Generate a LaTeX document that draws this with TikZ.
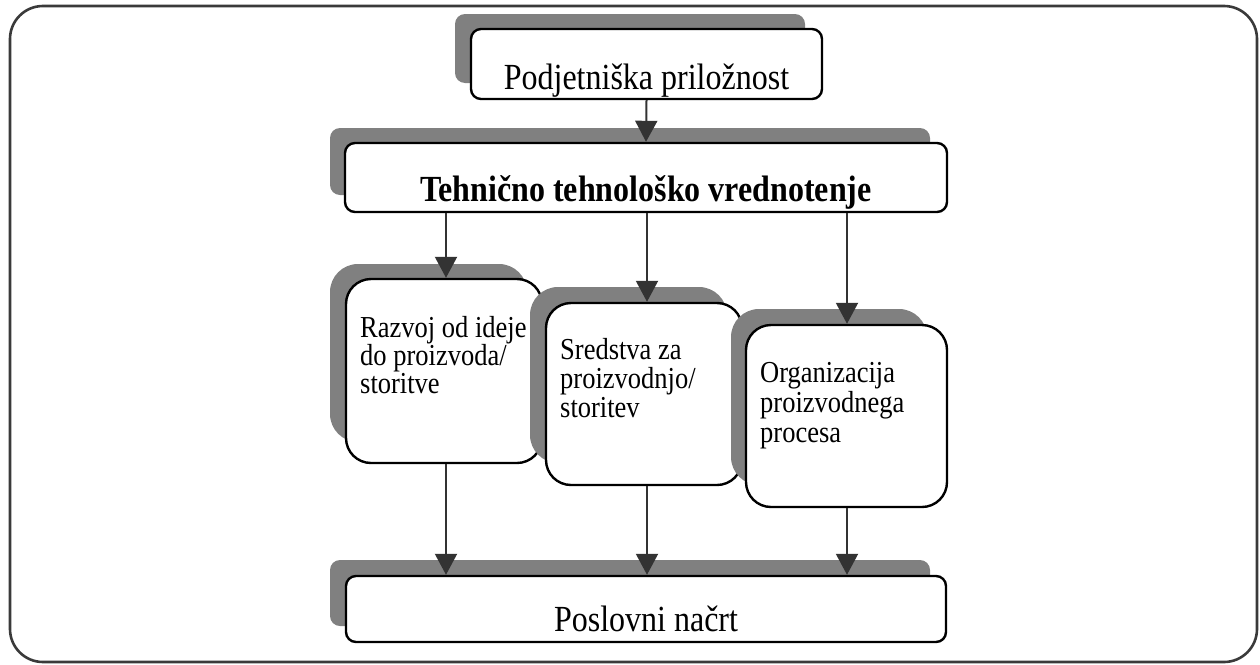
\documentclass[tikz,border=0pt]{standalone}
\usepackage{graphicx}
\usepackage{fontspec}
\setmainfont{Liberation Serif}
\usetikzlibrary{arrows.meta}

\definecolor{framegray}{HTML}{3A3A3A}
\definecolor{shadegray}{HTML}{808080}
\definecolor{conngray}{HTML}{333333}

% glyphs in this chart are set slightly tall
\newcommand\talltext[1]{\scalebox{1}[1.15]{#1}}

\tikzset{
  box/.style={rectangle, draw=black, line width=2.4pt, fill=white,
              rounded corners=#1, inner sep=0pt},
  box/.default=10pt,
  shade/.style={fill=shadegray, rounded corners=#1},
  shade/.default=10pt,
  bigtext/.style={inner sep=0pt, anchor=base, font=\fontsize{32}{38}\selectfont},
  smalltext/.style={inner sep=0pt, anchor=base west},
  conn/.style={draw=conngray, line width=2pt,
               -{Triangle[width=22pt,length=21pt]}, fill=conngray},
  outer/.style={draw=framegray, line width=2.6pt, rounded corners=33pt}
}

\begin{document}
\begin{tikzpicture}[x=1pt, y=-1pt]
  \useasboundingbox (0,0) rectangle (1260,664);

  % surrounding frame
  \draw[outer] (10,6) rectangle (1257,662);

  % top box
  \fill[shade] (455,14) rectangle (805,83);
  \node[box, minimum width=351pt, minimum height=70pt] (A) at (646.5,64) {};
  \node[bigtext] (At) at ([yshift=11pt]A.south) {\talltext{Podjetniška priložnost}};

  % evaluation box
  \fill[shade] (330,128) rectangle (930,195);
  \node[box, minimum width=602pt, minimum height=69pt] (B) at (646,177.5) {};
  \node[bigtext, font=\fontsize{32}{38}\selectfont\bfseries] (Bt)
    at ([yshift=12pt]B.south) {\talltext{Tehnično tehnološko vrednotenje}};

  % three component boxes, each drawn with its own shadow
  \fill[shade=28pt] (330,264) rectangle (527,442);
  \node[box=25pt, minimum width=196pt, minimum height=184pt] (C1) at (444,371) {};
  \node[smalltext] (C1t) at (360,337)
    {\fontsize{26.5}{22.2}\selectfont\talltext{\begin{tabular}[t]{@{}l@{}}Razvoj od ideje\\do proizvoda/\\storitve\end{tabular}}};

  \fill[shade=28pt] (530,287) rectangle (727,463);
  \node[box=25pt, minimum width=196pt, minimum height=182pt] (C2) at (644,394) {};
  \node[smalltext] (C2t) at (560,359)
    {\fontsize{26.5}{24.3}\selectfont\talltext{\begin{tabular}[t]{@{}l@{}}Sredstva za\\proizvodnjo/\\storitev\end{tabular}}};

  \fill[shade=28pt] (731,309) rectangle (927,485);
  \node[box=25pt, minimum width=201pt, minimum height=182pt] (C3) at (846.5,416) {};
  \node[smalltext] (C3t) at (760,382)
    {\fontsize{26.5}{26.5}\selectfont\talltext{\begin{tabular}[t]{@{}l@{}}Organizacija\\proizvodnega\\procesa\end{tabular}}};

  % result box
  \fill[shade] (330,560) rectangle (930,626);
  \node[box, minimum width=600pt, minimum height=66pt] (D) at (646,609) {};
  \node[bigtext] (Dt) at ([yshift=12pt]D.south) {\talltext{Poslovni načrt}};

  % connectors
  \draw[conn] (A.south) -- (B.north);
  \draw[conn] (B.south -| C1t.west) ++(86pt,0) coordinate (b1) -- (b1 |- C1.north);
  \draw[conn] (B.south) ++(1pt,0) coordinate (b2) -- (b2 |- C2.north);
  \draw[conn] (B.south) ++(201pt,0) coordinate (b3) -- (b3 |- C3.north);
  \draw[conn] (b1 |- C1.south) -- (b1 |- D.north);
  \draw[conn] (b2 |- C2.south) -- (b2 |- D.north);
  \draw[conn] (b3 |- C3.south) -- (b3 |- D.north);
\end{tikzpicture}
\end{document}
